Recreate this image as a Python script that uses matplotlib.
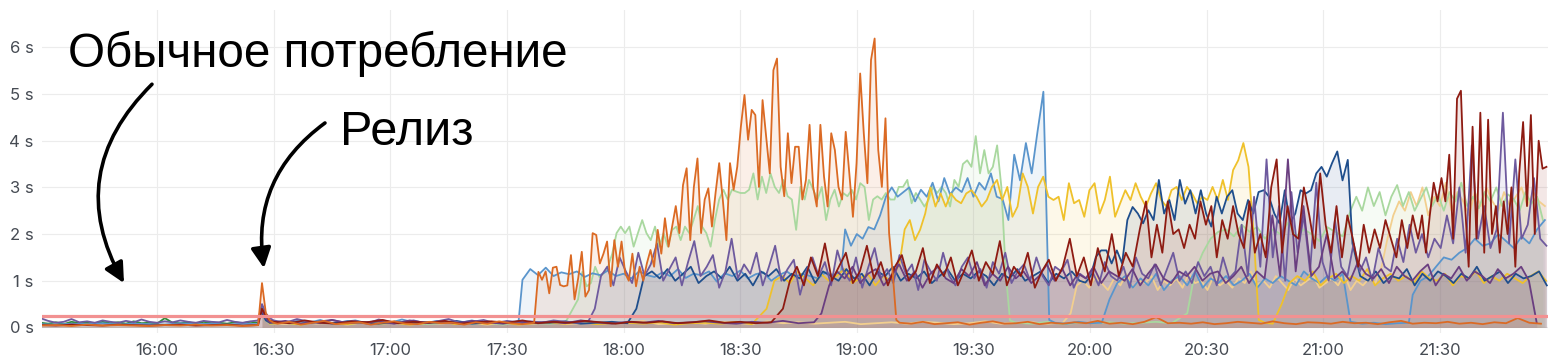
import numpy as np
import pandas as pd
import matplotlib
matplotlib.use("Agg")
import matplotlib.pyplot as plt
import matplotlib.dates as mdates

# ---------------- data ----------------
START = "2021-03-01 15:30"          # time origin, series times are minutes after it
X_RANGE = (0.4, 387.8)               # visible window, minutes after START
Y_TICKS = [0, 1, 2, 3, 4, 5, 6]
Y_TICK_LABELS = ["0 s", "1 s", "2 s", "3 s", "4 s", "5 s", "6 s"]
X_TICK_LABELS = ["16:00", "16:30", "17:00", "17:30", "18:00", "18:30",
                 "19:00", "19:30", "20:00", "20:30", "21:00", "21:30"]
THRESHOLD = 0.24

NOTE_NORMAL = "Обычное потребление"
NOTE_RELEASE = "Релиз"

# each series: list of segments (start minute, step minutes, values in seconds)
green = [
    (0, 2, [0.10, 0.08, 0.11, 0.07, 0.12, 0.09, 0.10, 0.08, 0.12, 0.09, 0.11, 0.08,
            0.13, 0.09, 0.10, 0.08, 0.20, 0.10, 0.09, 0.11, 0.08, 0.12, 0.09, 0.10,
            0.08, 0.11, 0.09, 0.12, 0.10]),
]

blue = [
    (0, 4, [0.07, 0.06, 0.08, 0.07, 0.09, 0.06, 0.08, 0.07, 0.06, 0.09, 0.07, 0.08,
            0.06, 0.08, 0.07]),
    (57, 1, [0.45, 0.2, 0.12]),
    (60, 3, [0.12, 0.09, 0.14, 0.1, 0.16, 0.08, 0.12, 0.15, 0.09, 0.13, 0.1, 0.17,
             0.11, 0.09, 0.14, 0.12, 0.1, 0.15, 0.09, 0.12, 0.11, 0.13]),
    (124, 2, [1.02, 1.25, 1.12, 1.28, 1.1, 1.18, 1.14, 1.2, 1.08, 1.16, 1.12, 1.22,
              1.1, 1.15, 1.05, 1.2, 1.12, 1.08, 1.18, 1.1, 1.25, 1.06, 1.15, 1.12,
              1.2, 0.98, 1.16, 1.1, 1.22, 1.05, 1.14, 1.18, 1.0, 1.12, 1.2, 1.08,
              1.15, 1.1, 1.05, 1.18, 1.12, 1.2]),
    (207, 1.5, [2.1, 1.75, 2.0, 1.9, 2.15, 2.1, 2.4, 2.8, 3.0, 2.8, 2.9, 3.0, 2.7,
                2.95, 2.8, 3.1, 2.7, 3.2, 2.85, 3.0, 2.9, 3.2, 2.8, 3.1, 2.95, 3.3,
                2.8, 2.75, 2.3, 3.7, 3.15, 3.95, 3.3, 4.2, 5.05, 0.16]),
    (261, 3, [0.1, 0.08, 0.12, 0.09, 0.1]),
    (275, 2, [0.6, 0.95, 1.1, 0.85, 1.05, 0.9, 1.15, 0.8, 1.0, 1.1, 0.9, 1.2, 0.85,
              1.05, 0.95, 1.1, 0.9, 1.0, 1.15, 0.85, 1.05, 0.95, 1.1, 1.0, 0.9, 1.2,
              1.05, 0.95, 1.1, 1.0, 1.15]),
    (337, 3, [0.12, 0.08, 0.1, 0.07, 0.09, 0.1]),
    (353, 2, [0.7, 1.0, 1.1, 1.3, 1.5, 1.45, 1.6, 1.7, 1.9, 1.75, 1.8, 2.0, 1.85,
              1.7, 1.95, 1.8, 2.1, 2.3]),
]

orange = [
    (0, 4, [0.04, 0.05, 0.03, 0.06, 0.04, 0.05, 0.04, 0.03, 0.05, 0.04, 0.06, 0.04,
            0.05, 0.03, 0.05]),
    (57, 1, [0.95, 0.3, 0.15, 0.1]),
    (61, 3, [0.08, 0.12, 0.06, 0.1, 0.14, 0.07, 0.09, 0.11, 0.06, 0.1, 0.13, 0.08,
             0.07, 0.12, 0.09, 0.1, 0.06, 0.11, 0.08, 0.13, 0.09, 0.07, 0.1]),
    (128.1, 0.93, [1.19, 1.02, 1.2, 0.73, 1.28, 1.3, 0.91, 0.88, 0.9, 1.55,
                   0.6, 1.05, 1.62, 0.66, 0.8, 2.02, 1.98, 1.37, 1.58, 1.84,
                   0.88, 1.87, 1.3, 1.84, 1.16, 1.0, 1.58, 0.88, 1.3, 1.0,
                   1.37, 1.66, 1.3, 2.09, 1.58, 2.34, 1.73, 2.16, 2.6, 2.02,
                   3.05, 3.41, 1.87, 3.01, 3.62, 2.02, 2.74, 2.98, 2.16, 2.88,
                   3.52, 2.74, 1.87, 3.52, 2.95, 3.44, 4.3, 4.98, 4.02, 4.66,
                   4.55, 3.01, 4.87, 4.09, 3.3, 5.51, 5.76, 3.44, 2.81, 4.16,
                   3.09, 3.87, 3.87, 2.74, 3.16, 4.34, 3.01, 2.59, 4.34, 3.23,
                   2.59, 4.16, 3.8, 3.01, 2.74, 4.19, 3.3, 2.37, 3.52, 5.44,
                   4.16, 3.09, 5.73, 6.19, 3.8, 3.01, 4.48, 2.02, 1.16, 0.16]),
    (221, 3, [0.1, 0.08, 0.12, 0.07, 0.09, 0.11, 0.06, 0.1, 0.13, 0.08,
              0.09, 0.12, 0.07, 0.1, 0.08, 0.11, 0.09, 0.14, 0.08, 0.1,
              0.07, 0.12, 0.22, 0.09, 0.1, 0.08, 0.11, 0.07, 0.09, 0.12,
              0.1, 0.08, 0.13, 0.09, 0.07, 0.11, 0.1, 0.08, 0.12, 0.09,
              0.1, 0.07, 0.11, 0.14, 0.08, 0.1, 0.09, 0.12, 0.08, 0.1,
              0.07, 0.11, 0.09, 0.2, 0.1, 0.08]),
]

light_green = [
    (57, 1, [0.3, 0.15]),
    (59, 4, [0.08, 0.1, 0.06, 0.12, 0.09, 0.07, 0.11, 0.08, 0.1, 0.13, 0.07, 0.09,
             0.11, 0.08, 0.1, 0.06, 0.12, 0.09, 0.08, 0.1]),
    (138.3, 1.1, [0.6, 1.19, 0.88, 0.95, 1.3, 1.08, 1.16, 1.3, 1.58, 2.02,
                  2.16, 2.02, 2.16, 1.73, 2.02, 2.3, 2.02, 1.87, 2.16, 1.73,
                  2.02, 1.73, 2.09, 2.16, 1.87, 2.16, 2.02, 2.3, 2.6, 2.16,
                  2.02, 1.73, 2.3, 2.74, 2.95, 2.74, 2.95, 2.91, 2.88, 2.88,
                  2.95, 3.3, 2.74, 3.23, 2.88, 3.3, 3.01, 2.88, 3.16, 2.81,
                  2.74, 2.09, 3.01, 2.74, 3.16, 2.95, 2.74, 3.01, 2.3, 2.74,
                  2.95, 2.59, 2.88, 2.81, 2.95, 2.74, 3.09, 3.01, 2.3, 2.74,
                  2.81, 2.74, 2.88, 2.74, 2.74, 3.01, 3.01, 3.16, 2.66, 2.88,
                  2.74, 2.59, 2.74, 3.01, 2.88, 3.01, 2.88, 2.59, 3.16, 3.01,
                  3.5, 3.58, 3.44, 4.1, 3.3, 3.8, 3.3, 3.44, 3.9, 3.0,
                  1.2, 0.15]),
    (251, 4, [0.1, 0.08, 0.12, 0.07, 0.1, 0.09, 0.11, 0.08, 0.1, 0.12, 0.09]),
    (295, 2, [0.3, 1.2, 1.6, 1.9, 2.05, 2.1, 1.95, 2.2, 2.05, 2.15, 1.9, 2.1, 2.0,
              2.25, 1.95, 2.1, 2.0, 1.85, 2.15, 2.05, 1.95]),
    (337, 1.5, [2.5, 2.8, 2.5, 3.0, 2.6, 2.9, 2.4, 2.8, 3.05, 2.6, 2.9, 2.5, 2.75,
                3.0, 2.6, 2.85, 2.5, 2.9, 2.7, 3.1, 2.6, 2.8, 2.55, 2.9, 2.7, 3.0,
                2.6, 2.85, 2.75, 2.5, 2.9, 2.65, 2.8, 2.3]),
]

purple = [
    (0, 2, [0.2, 0.14, 0.1, 0.12, 0.18, 0.11, 0.13, 0.1, 0.15, 0.12, 0.1, 0.14,
            0.11, 0.17, 0.12, 0.1, 0.13, 0.11, 0.15, 0.12, 0.1, 0.14, 0.12, 0.11,
            0.16, 0.12, 0.1, 0.13, 0.15]),
    (57, 1, [0.5, 0.3, 0.2]),
    (60, 3, [0.15, 0.1, 0.18, 0.12, 0.09, 0.16, 0.11, 0.14, 0.08, 0.17, 0.12, 0.1,
             0.15, 0.09, 0.13, 0.18, 0.1, 0.12, 0.16, 0.09, 0.14, 0.11, 0.13, 0.1,
             0.15, 0.12, 0.1, 0.14]),
    (142.6, 1.6, [0.4, 1.1, 1.3, 0.9, 1.5, 1.2, 0.95, 1.6, 1.1, 1.35, 1.8, 1.0,
                  1.25, 1.5, 0.9, 1.4, 1.85, 1.1, 1.3, 1.55, 0.85, 1.2, 1.9, 1.05,
                  1.35, 1.15, 1.6, 0.9, 1.3, 1.75, 1.0, 1.25, 1.45, 0.7, 1.2, 1.5,
                  1.1, 1.4, 0.9, 1.65, 1.2, 1.0, 1.5, 0.85, 1.3, 1.7, 1.05, 1.25,
                  0.95, 1.55, 1.15, 1.35, 0.8, 1.45, 1.2, 1.0, 1.6, 1.1, 0.9, 1.3,
                  1.5, 1.05, 1.25, 0.85, 1.4, 1.15, 1.6, 0.95, 1.2, 1.35, 1.0, 1.5,
                  1.1, 0.9, 1.3, 1.2, 1.45, 0.85, 1.15, 1.05,
                  1.2, 0.9, 1.4, 1.1, 1.0, 1.3, 0.85, 1.5, 1.15, 1.05, 1.35, 0.9,
                  1.25, 1.6, 1.0, 1.2, 0.95, 1.4, 1.1, 1.3, 0.9, 1.5, 1.05, 1.2,
                  2.2, 1.1, 2.8, 1.3, 3.6, 1.5, 2.6, 1.0, 2.9, 1.6, 2.4, 1.2, 3.1, 1.4,
                  1.0, 2.3, 1.3, 1.1, 1.8, 1.2, 1.5, 1.0, 1.7, 1.3, 1.2, 1.9, 1.4,
                  2.2, 1.6, 2.0, 1.5, 1.9, 1.7, 2.4, 1.8, 3.0, 1.6, 3.9, 1.9, 2.6,
                  1.7, 2.1, 4.6, 1.8, 3.6, 1.9, 2.2, 3.2, 1.9, 1.75]),
]

purple_dark = [
    (57, 1, [0.35, 0.2]),
    (59, 4, [0.1, 0.14, 0.08, 0.12, 0.16, 0.09, 0.11, 0.13, 0.08, 0.15, 0.1, 0.12,
             0.09, 0.14, 0.11, 0.08, 0.13, 0.1, 0.12, 0.09, 0.15, 0.11, 0.08, 0.12,
             0.1, 0.14, 0.09, 0.11, 0.13, 0.1, 0.08, 0.12, 0.1, 0.14, 0.09, 0.11]),
    (200.9, 2, [0.3, 0.9, 1.2, 1.05, 1.3, 0.95, 1.15, 1.25, 0.9, 1.1,
                1.35, 1.0, 1.2, 0.85, 1.15, 1.3, 1.05, 0.95, 1.25, 1.1,
                1.4, 0.9, 1.15, 1.0, 1.3, 1.05, 1.2, 0.95, 1.1, 1.35,
                1.0, 1.25, 0.9, 1.15, 1.05, 1.3, 0.95, 1.2, 1.1, 1.0,
                1.25, 0.9, 1.15, 1.35, 1.05, 0.95, 1.2, 1.1, 1.3, 1.0,
                1.15, 1.2, 0.95, 1.1, 1.3, 0.95, 1.2, 1.05, 2.4, 1.1,
                3.6, 1.2, 2.6, 1.1, 1.3, 2.0, 1.05, 1.2, 1.0, 1.4,
                1.15, 1.05, 1.25, 0.95, 1.3, 1.1, 1.0, 1.2, 1.35, 0.9,
                1.15, 1.05, 1.3, 1.0, 1.2, 1.1, 0.95, 1.25, 1.05, 1.15,
                1.3, 1.0, 0.1]),
]

dark_blue = [
    (57, 1, [0.3, 0.15]),
    (59, 4, [0.1, 0.12, 0.08, 0.11, 0.09, 0.13, 0.1, 0.08, 0.12, 0.09, 0.11, 0.1,
             0.14, 0.08, 0.1, 0.12, 0.09, 0.11, 0.1, 0.13, 0.08, 0.1, 0.12, 0.09]),
    (153.3, 2, [0.4, 1.1, 1.2, 1.05, 1.25, 1.0, 1.15, 1.3, 0.95, 1.1, 1.2, 1.05,
                1.3, 1.0, 1.15, 0.9, 1.2, 1.1, 1.25, 1.0, 1.15, 1.05, 1.3, 0.95,
                1.2, 1.1, 1.0, 1.25, 1.05, 1.15, 0.9, 1.2, 1.1, 1.3, 1.0, 1.15,
                1.05, 1.2, 0.95, 1.1, 1.25, 1.0, 1.15, 1.05, 1.2, 1.1, 0.9, 1.15,
                1.05, 1.25, 1.0, 1.1, 1.2, 0.95, 1.15, 1.05, 1.2, 1.0]),
    (268.8, 1.35, [0.96, 1.1, 1.51, 1.65, 1.65, 1.37, 1.65, 1.37, 2.3, 2.58,
                   2.44, 2.23, 2.51, 2.3, 3.16, 2.44, 2.73, 2.3, 3.16, 2.65,
                   2.94, 2.44, 2.94, 2.44, 2.16, 2.8, 2.44, 2.8, 2.94, 2.44,
                   2.3, 2.73, 2.44, 2.9, 2.94, 2.8, 2.44, 2.23, 2.94, 2.23,
                   2.44, 2.94, 2.87, 2.94, 3.3, 3.44, 3.23, 3.52, 3.77, 3.15,
                   3.59]),
    (337.5, 2, [1.8, 1.1, 1.0, 1.2, 0.95, 1.1, 1.05, 1.25, 0.9, 1.15, 1.0, 1.2, 1.1,
                0.95, 1.15, 1.05, 1.3, 1.0, 1.1, 1.2, 0.95, 1.15, 1.05, 1.1, 1.2, 0.9]),
]

yellow = [
    (57, 1, [0.35, 0.2]),
    (59, 4, [0.08, 0.1, 0.06, 0.12, 0.09, 0.07, 0.11, 0.08, 0.1, 0.06, 0.09, 0.12,
             0.07, 0.1, 0.08, 0.11, 0.06, 0.09, 0.1, 0.08, 0.12, 0.07, 0.09, 0.1,
             0.08, 0.11, 0.06, 0.09, 0.1, 0.08, 0.12, 0.07]),
    (186.8, 2, [0.4, 1.0, 1.1, 0.95, 1.2, 1.05, 0.9, 1.15, 1.0, 1.1, 1.25, 0.95,
                1.05, 1.15, 0.9, 1.1, 1.0]),
    (221, 1.32, [1.37, 2.1, 2.3, 1.87, 2.09, 2.44, 3.0, 2.59, 2.87, 2.59,
                 2.87, 2.73, 2.66, 2.87, 2.94, 2.8, 2.59, 2.73, 3.01, 3.16,
                 2.73, 3.01, 2.37, 2.59, 3.3, 3.01, 2.44, 3.01, 3.23, 2.8,
                 2.73, 2.8, 2.3, 3.09, 2.66, 2.73, 2.37, 2.94, 3.09, 2.44,
                 2.73, 3.23, 2.37, 2.66, 2.94, 2.73, 3.09, 2.8, 2.59, 2.87,
                 3.09, 2.73, 2.59, 2.94, 3.01, 2.73, 3.01, 2.87, 2.66, 2.8,
                 2.73, 3.01, 2.73, 3.16, 2.73, 3.37, 3.58, 3.95, 3.44, 2.0, 0.16]),
    (315, 2, [0.1, 0.08]),
    (319.3, 2, [0.5, 0.95, 1.1, 1.0, 1.2, 0.9, 1.05, 1.15, 0.95, 1.1, 1.0, 1.25,
                0.9, 1.05, 1.15, 1.0, 1.1, 0.95, 1.2, 1.05, 1.0, 1.15, 0.9, 1.1,
                1.05, 1.2, 0.95, 1.1, 1.0, 1.15, 1.05, 0.95, 1.1, 1.2, 1.0]),
]

dark_red = [
    (0, 4, [0.05, 0.04, 0.06, 0.05, 0.04, 0.06, 0.05, 0.04, 0.05, 0.06, 0.04, 0.05,
            0.06, 0.04, 0.05]),
    (57, 1, [0.4, 0.25, 0.15]),
    (60, 4, [0.12, 0.09, 0.15, 0.1, 0.08, 0.13, 0.11, 0.16, 0.09, 0.12, 0.1, 0.14,
             0.08, 0.11, 0.13, 0.1, 0.15, 0.09, 0.12, 0.1, 0.14, 0.11, 0.08, 0.12,
             0.1, 0.13, 0.09, 0.11, 0.15, 0.1, 0.12, 0.09, 0.11]),
    (191, 1.8, [0.4, 1.0, 1.3, 0.9, 1.5, 1.1, 1.8, 1.0, 1.3, 1.6, 0.95, 1.2, 1.75,
                1.05, 1.4, 0.9, 1.3, 1.55, 1.0, 1.2, 1.7, 0.95, 1.35, 1.1, 1.5, 0.9,
                1.25, 1.65, 1.0, 1.4, 1.15, 1.85, 0.9, 1.3, 1.1, 1.6, 0.85, 1.2,
                1.45, 1.0, 1.3, 1.9, 1.1, 1.5, 0.9, 1.7, 1.2, 2.0, 1.1, 1.6, 1.3,
                2.1]),
    (284.4, 1.4, [2.7, 1.5, 2.2, 1.6, 2.7, 2.0, 2.1, 1.7, 2.2, 1.9, 2.7, 2.2, 2.6,
                  1.5, 2.3, 1.9, 2.6, 2.0, 1.7, 2.7, 1.6, 2.0, 1.5, 3.0, 3.6, 1.6,
                  2.6, 2.0, 1.9, 3.0, 2.4, 1.7, 3.3, 2.2, 1.6, 2.6, 1.5, 2.4, 1.9,
                  1.3, 2.2, 1.6, 2.1, 1.7, 2.3, 1.9, 1.5, 2.3, 1.7, 2.4]),
    (354.4, 1.0, [1.9, 2.4, 1.6, 2.4, 3.1, 2.7, 3.2, 2.7, 3.7, 1.9, 4.9, 5.07, 2.7,
                  1.3, 4.3, 1.9, 4.6, 1.6, 4.45, 2.0, 2.6, 1.6, 2.7, 2.0, 3.0, 1.3,
                  3.3, 4.4, 2.6, 4.55, 2.0, 4.0, 3.4, 3.44]),
]

light_orange = [
    (57, 1, [0.3, 0.18]),
    (59, 4, [0.1, 0.07, 0.12, 0.08, 0.1, 0.06, 0.11, 0.09, 0.13, 0.07, 0.1, 0.08,
             0.12, 0.09, 0.06, 0.1, 0.11, 0.08, 0.13, 0.07, 0.09, 0.12, 0.08, 0.1,
             0.14, 0.07, 0.09, 0.11, 0.08, 0.12, 0.1, 0.07, 0.13, 0.09, 0.11, 0.08,
             0.1, 0.12, 0.07, 0.09, 0.11, 0.08, 0.12, 0.1, 0.07, 0.09, 0.13, 0.08,
             0.1, 0.11, 0.08, 0.1]),
    (265, 1.6, [0.3, 0.9, 1.0, 0.85, 1.1, 0.95, 0.8, 1.05, 0.9, 1.15, 0.85, 1.0,
                0.95, 1.1, 0.8, 1.0, 0.9, 1.05, 0.85, 1.15, 0.95, 1.0, 0.8, 1.1,
                0.9, 1.0, 0.85, 1.05, 0.95, 1.2, 0.9, 1.0, 0.85, 1.1, 0.95, 0.8,
                1.05, 0.9, 1.0, 1.1, 0.85, 0.95, 1.05, 0.9, 1.15, 0.8, 1.0, 0.9,
                1.05, 0.95]),
    (345, 1.5, [1.3, 1.9, 2.4, 2.7, 2.5, 2.9, 2.6, 3.0, 2.4, 2.8, 2.6, 3.1, 2.5,
                2.9, 2.7, 2.4, 2.9, 2.6, 3.0, 2.7, 2.5, 2.9, 2.6, 2.8, 3.0, 2.6,
                2.9, 2.7, 2.6]),
]

# drawing order (first = bottom) and colours
SERIES = [
    (light_orange, "#F2CF8E"),
    (light_green, "#A9D89F"),
    (green, "#2F8A3A"),
    (blue, "#5A95CC"),
    (yellow, "#EFC12B"),
    (dark_blue, "#1F4E8C"),
    (purple, "#6E5A9E"),
    (purple_dark, "#6A3E80"),
    (dark_red, "#8E1B12"),
    (orange, "#DB6A24"),
]

# ---------------- drawing ----------------
t0 = pd.Timestamp(START)


def to_time(minutes):
    return t0 + pd.to_timedelta(np.asarray(minutes, dtype=float), unit="m")


def build(segments):
    t, v = [], []
    for start, step, vals in segments:
        t.extend(start + step * np.arange(len(vals)))
        v.extend(vals)
    return to_time(t), np.array(v)


plt.rcParams["font.family"] = ["Inter", "DejaVu Sans"]
fig = plt.figure(figsize=(15.6, 3.63), dpi=100)
ax = fig.add_axes([0.0269, 0.0826, 0.9654, 0.8898])

for segs, col in SERIES:
    t, v = build(segs)
    ax.fill_between(t, 0, v, color=col, alpha=0.10, lw=0, zorder=2)
    ax.plot(t, v, color=col, lw=1.3, zorder=3)

ax.axhline(THRESHOLD, color="#F29191", lw=2.3, zorder=4)

x_lo, x_hi = to_time(X_RANGE)
ax.set_xlim(x_lo, x_hi)
ax.set_ylim(-0.12, 6.8)

tick_times = [pd.Timestamp(f"{t0.date()} {lab}") for lab in X_TICK_LABELS]
ax.set_xticks(tick_times)
ax.set_xticklabels(X_TICK_LABELS)
ax.set_yticks(Y_TICKS)
ax.set_yticklabels(Y_TICK_LABELS)

for s in ax.spines.values():
    s.set_visible(False)
ax.tick_params(axis="both", length=0, labelsize=12, colors="#464b53")
ax.tick_params(axis="y", pad=6)
ax.tick_params(axis="x", pad=7)
ax.grid(True, color="#ececec", lw=0.8, zorder=0)
ax.set_axisbelow(True)

# annotations
ax.text(to_time(7.1), 5.58, NOTE_NORMAL, fontsize=34.3, family="Liberation Sans",
        color="black", ha="left", va="baseline", zorder=6)
ax.text(to_time(77.1), 3.91, NOTE_RELEASE, fontsize=35, family="Liberation Sans",
        color="black", ha="left", va="baseline", zorder=6)

arrow_kw = dict(arrowstyle="-|>", lw=2.6, color="black", mutation_scale=30,
                shrinkA=0, shrinkB=0)
ax.annotate("", xy=(mdates.date2num(to_time(21.5)), 0.95),
            xytext=(mdates.date2num(to_time(28.7)), 5.21),
            arrowprops=dict(connectionstyle="arc3,rad=0.38", **arrow_kw), zorder=6)
ax.annotate("", xy=(mdates.date2num(to_time(57.5)), 1.27),
            xytext=(mdates.date2num(to_time(73.2)), 4.38),
            arrowprops=dict(connectionstyle="arc3,rad=0.3", **arrow_kw), zorder=6)

fig.savefig("out.png", dpi=100, facecolor="white")
